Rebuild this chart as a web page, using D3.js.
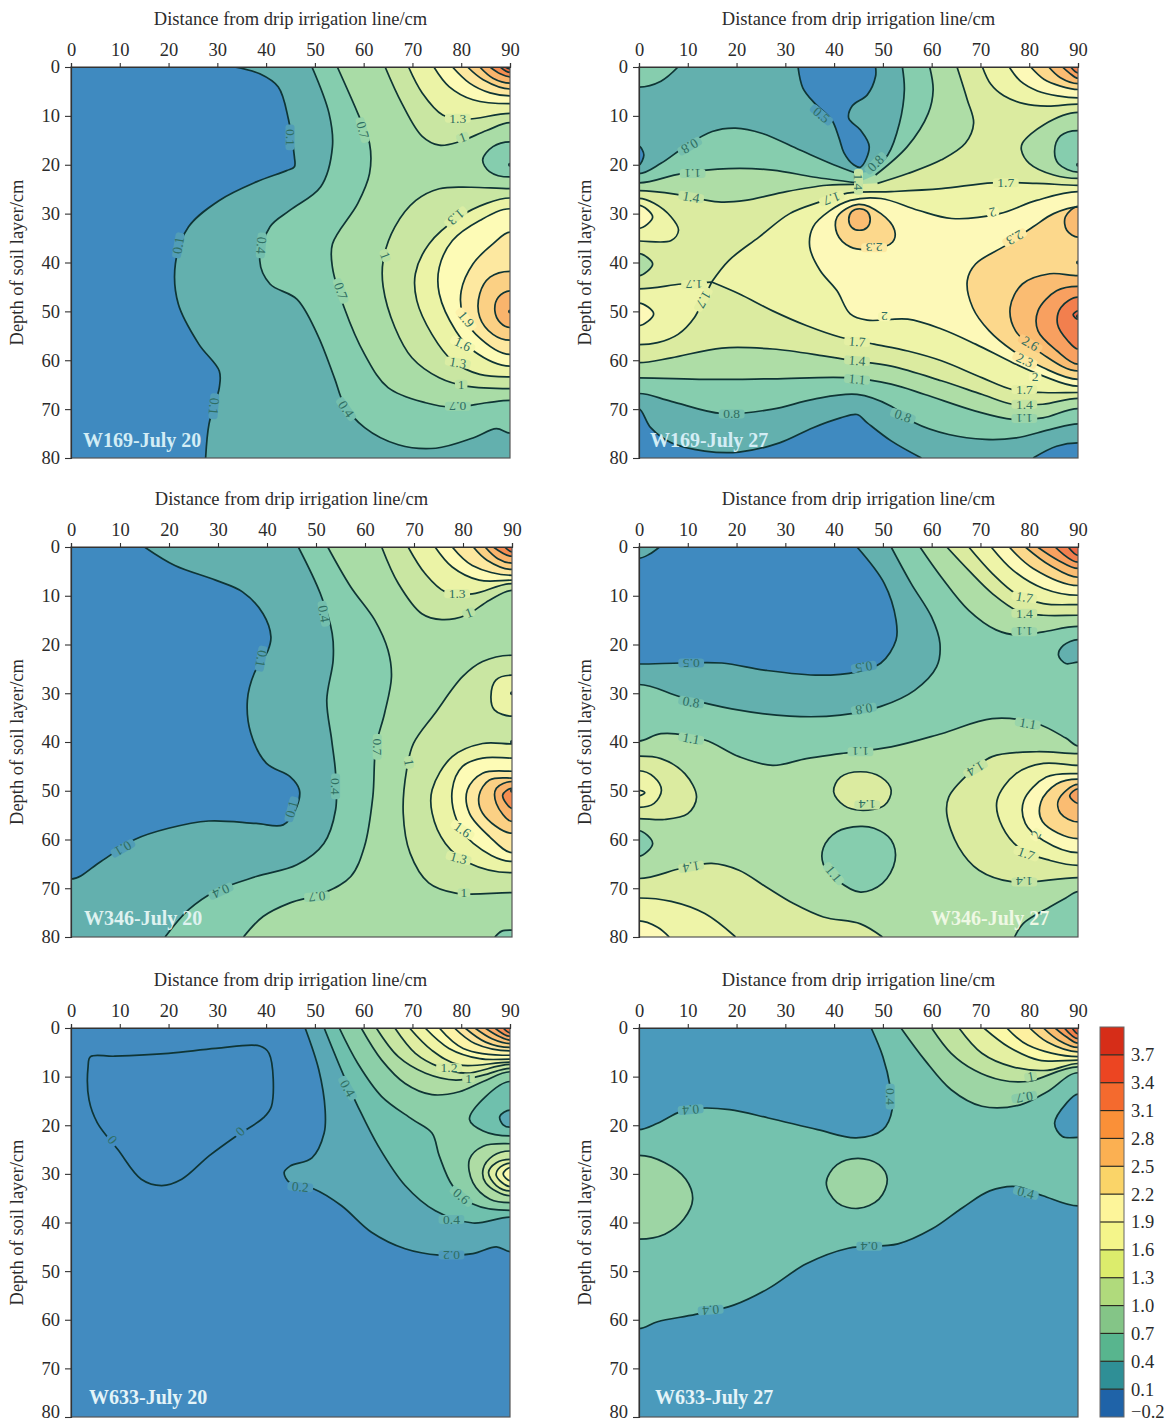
<!DOCTYPE html>
<html><head><meta charset="utf-8">
<script src="https://cdn.jsdelivr.net/npm/d3@7"></script>
<style>html,body{margin:0;background:#fff}svg{display:block}text{font-family:"Liberation Serif",serif}</style>
</head><body><div id="c"></div>
<script>
const distanceTicks=[0,10,20,30,40,50,60,70,80,90];
const depthTicks=[0,10,20,30,40,50,60,70,80];
const levelsA=[0.1,0.4,0.7,1,1.3,1.6,1.9,2.2,2.5,2.8,3.1,3.4];
const levelsB=[0.5,0.8,1.1,1.4,1.7,2,2.3,2.6,2.9,3.2,3.5];
const levelsC=[0,0.2,0.4,0.6,0.8,1,1.2,1.4,1.6,1.8,2,2.2,2.4,2.6,2.8,3];
const levelsD=[0.4,0.7,1,1.3,1.6,1.9,2.2,2.5,2.8,3.1,3.4];
const bandsA=['#3f8ac0','#63b0ae','#85cdae','#a9dca6','#c9e6a2','#ebf3a6','#fdfbb6','#fde8a0','#fbd084','#f9b46c','#f68c50','#ee6a40','#e64c30'];
const bandsB=['#3f8ac0','#63b0ae','#86cdae','#aedda6','#dbeba0','#eef4a8','#fdf9b8','#fcd88c','#fabc72','#f8a060','#f27f4e','#ec6644'];
const bandsC=['#428bc0','#428bc0','#5aa8b5','#6fc0ad','#8ccfa8','#aedca4','#c8e6a2','#e0eea2','#f0f4a6','#fdfbb0','#fdf3a8','#fde6a0','#fbd488','#fac078','#f8a868','#f59058','#f07848'];
const bandsD=['#4a9abc','#74c2ae','#9dd5a4','#c0e3a0','#e4f0a2','#fbf9a8','#fdf0a0','#fcd788','#f9bc70','#f79e5c','#f2804a','#e85c38'];
const colorbarLevels=[-0.2,0.1,0.4,0.7,1,1.3,1.6,1.9,2.2,2.5,2.8,3.1,3.4,3.7,4];
const colorbarBands=['#1f63a8','#2f8f96','#58b58e','#84c587','#b0da7c','#dcec6c','#f4f58a','#fdf59a','#fad468','#fbb052','#fa9038','#f46a2e','#ec4522','#d62d18'];
const colorbarTicks=[-0.2,0.1,0.4,0.7,1,1.3,1.6,1.9,2.2,2.5,2.8,3.1,3.4,3.7];

const hi=(v,...segs)=>({v,low:false,segs});
const lo=(v,...segs)=>({v,low:true,segs});
const blobHi=(v,pts)=>({v,low:false,closed:true,segs:[pts]});
const blobLo=(v,pts)=>({v,low:true,closed:true,segs:[pts]});
const TR=[[90,0]],BR=[[90,80]],BL=[[0,80]],TL=[[0,0]];

const w169Jul20=[
hi(0.1,[[33.5,0],[38.7,1.4],[42.5,4.1],[44.6,10.8],[45.8,18.4],[45.8,20.4],[44.2,21.2],[38,23.5],[30.4,27.3],[24.1,32.7],[21.4,40.3],[22,48.5],[26.2,56.7],[30.4,62.2],[30.4,65.6],[28.3,73],[27.6,80]],BR,TR),
hi(0.4,[[49.4,0],[52.9,9.5],[53.6,16.3],[51.2,24.5],[44.9,29.3],[40.8,32.7],[38.7,39.6],[40.8,44.4],[46.3,47.5],[50.5,54.7],[54,63.6],[56,69],[60.2,73.8],[67.1,77.3],[74.8,78],[82.4,75.9],[87.2,74],[90,74.9]],TR),
hi(0.7,[[54.6,0],[58.8,9.5],[61.2,15.6],[61.2,21.8],[58.8,27.9],[53.6,36.2],[53.6,41],[56,49.2],[60.2,58.8],[65,65.6],[72.7,68.7],[78.2,69.6],[85.2,68.7],[90,68.2]],TR),
lo(0.7,[[90,15.3],[86.5,16.3],[84.4,19],[85.8,21.4],[90,22.5]]),
hi(1,[[64.4,0],[67.8,7.4],[72,14.2],[75.5,16],[79.6,15.3],[85.2,13],[90,11.4]],TR),
hi(1,[[90,24.9],[82,24.6],[75.5,24.9],[70.7,27.3],[66.4,32.7],[64,39.6],[64,45],[66.4,53.3],[69.9,59.5],[75.5,63.6],[81,65.3],[90,65.8]]),
hi(1.3,[[69.2,0],[72,5.3],[76.2,9.8],[81,10.7],[90,9.5]],TR),
hi(1.3,[[90,26.8],[85.2,27.9],[79.6,30.7],[73.4,36.2],[70.6,42.3],[70.9,47.8],[74,54.7],[78.2,60.1],[83.8,62.9],[90,63.4]]),
hi(1.6,[[74.4,0],[77.5,4],[82.4,6.7],[90,7.5]],TR),
hi(1.6,[[90,29],[83.8,31.4],[78.2,35.5],[75.5,41],[75.5,46.4],[78.9,54],[82.4,58],[90,61.2]]),
hi(1.9,[[78.2,0],[81.7,3.3],[85.9,5.3],[90,5.9]],TR),
hi(1.9,[[90,33.8],[86.5,36.2],[82.4,40.3],[80,45.8],[80.3,50.5],[83,54.7],[90,58.8]]),
hi(2.2,[[81.3,0],[84.5,2.6],[90,4.5]],TR),
hi(2.2,[[90,41.8],[85.9,43],[83.8,46.4],[83.8,51.2],[86.5,54.7],[90,55.9]]),
hi(2.5,[[83.8,0],[86.5,2.3],[90,3.3]],TR),
hi(2.5,[[90,45.8],[87.6,47.1],[86.9,49.9],[88,52.3],[90,53.3]]),
hi(2.8,[[85.9,0],[88,1.4],[90,2]],TR),
hi(3.1,[[88,0],[90,1.1]],TR),
hi(3.4,[[89,0],[90,0.4]],TR)
];
const w169Jul20Labels=[['0.1',44.9,14.4,90],['0.1',22,36.5,-80],['0.1',29.3,69.4,95],['0.4',39,36.5,95],['0.4',56.4,70,55],['0.7',59.8,12.9,75],['0.7',55.3,45.8,70],['0.7',79.3,69.4,180],['1',64.4,38.6,70],['1',80.3,14.4,-20],['1',80,64.9,0],['1.3',79.3,10.5,0],['1.3',78.9,30.7,140],['1.3',79.3,60.5,10],['1.6',80.3,56.7,25],['1.9',81,51.6,50]];
const w169Jul20Dots=[[90,20],[90,50]];

const w169Jul27=[
lo(0.5,[[32.6,0],[33.6,4.3],[36,7.4],[39.5,10.8],[41,14.5],[42,17.5],[44,20],[45.4,20.5],[47.2,16.3],[45.4,12.9],[43,10.5],[43.7,8],[46.8,5.7],[48.5,1.9],[48.5,0]]),
lo(0.5,[[0,16.2],[1,18],[0,20]]),
lo(0.5,[[0,70],[2.4,73.8],[6.6,76.9],[13.5,78.6],[20.5,78.8],[28.8,76.9],[35.7,73.8],[41.3,71.8],[44.7,71.1],[46.8,72.8],[51.7,76.5],[57.9,80]],BL),
lo(0.5,[[80.8,80],[85.6,77.6],[90,76.9]],BR),
hi(0.8,[[0,4.1],[4.5,2.9],[8,0]],TL),
hi(0.8,[[0,21.8],[4.5,19.7],[9.4,16.3],[15,13.2],[19.8,12.5],[25.3,13.6],[33,17],[39.9,20],[44.7,21.8]],[[47.5,21.4],[51,18],[53.4,11.5],[54.4,4.7],[54,0]],TR,[[90,73],[84.2,74.2],[77.3,75.9],[71,76.2],[63.5,75.2],[56.5,72.8],[51.7,69.4],[44.7,67],[35.7,68],[27.4,70],[17,70.9],[6.6,68.4],[0,66.8]]),
hi(1.1,[[0,23.7],[8.7,21.8],[18.4,20.8],[27.4,21.1],[35.7,22.5],[44.7,23.7]],[[48.5,22.1],[55,16.3],[59.3,9.5],[60.3,4.7],[59.6,0]],TR,[[90,69.9],[82.8,71.8],[76.6,72.1],[69,70.4],[58.6,67],[51.7,64.9],[43.3,63.6],[27.4,63.8],[13.5,63.9],[0,63.6]]),
hi(1.4,[[0,25.3],[8.7,26.2],[16.3,27.6],[21.8,27.3],[30.2,25.5],[38.5,24.2],[44.7,24]],[[48.9,23.8],[55.1,21.8],[62,19],[66.9,15.6],[68.6,11.5],[67.3,6.7],[65.2,0]],TR,[[90,67.8],[82.8,69],[76.6,69],[70.4,67],[62,64.2],[51.7,61.2],[43.3,60],[37.8,59.1],[27.4,57.7],[17,57.5],[6.6,59.5],[0,60.5]]),
lo(1.4,[[90,9.3],[83,11.8],[78.6,15.6],[78.4,17],[80,19.7],[85,22.1],[90,22.8]]),
lo(1.1,[[90,13],[86.4,14.1],[85.2,17.2],[86,19.8],[90,21.5]]),
lo(1.4,[[0,38.2],[2.8,40.3],[0,42.7]]),
hi(1.7,[[70.4,0],[72.1,3.5],[74.8,5.9],[78.9,7.5],[83.7,8],[90,7.6]],TR),
hi(1.7,[[0,26.9],[3.1,27.9],[6.6,30.7],[8.1,33.4],[6.6,35.5],[0,35.6]]),
hi(1.7,[[90,24.2],[81.5,23.8],[72.5,23.7],[62,24.9],[51.7,25.5],[42.7,25.8],[37.1,27.6],[30.9,30],[24.6,34.8],[18.4,39.6],[14.9,44]],[[14.9,44],[20.5,46.4],[27.4,49.9],[34.3,52.9],[41.3,55.3],[48.2,56.7],[55.1,58.1],[62,60.1],[70.4,63.6],[76.6,66],[82.8,66.6],[90,66.6]]),
hi(1.7,[[0,45.4],[8.7,44.4],[14.9,44]],[[14.9,44],[13.2,47.5],[11.4,51.2],[8,54.7],[3.8,56.4],[0,56.8]]),
hi(2,[[75.9,0],[78.2,2.9],[81.7,4.9],[85.8,5.9],[90,6.3]],TR),
hi(2,[[0,28.3],[2.8,30.7],[0,33]]),
hi(2,[[0,48.3],[3,50.5],[0,52.9]]),
hi(2,[[90,25.5],[81.5,27.3],[73.9,30],[64.1,31],[57.2,29.3],[49.6,26.9],[43.3,27.3],[39,29.5],[35.7,32.7],[35,36.8],[37.1,41.6],[40.6,45.8],[43.3,50.5],[46.8,51.8],[55.1,51.6],[62,53.6],[69,56.7],[76.6,60.5],[82.8,63.2],[90,65.3]]),
hi(2.3,[[80.3,0],[83,2.5],[86.4,3.9],[90,4.6]],TR),
blobHi(2.3,[[45,28.1],[40.6,30.7],[40.6,34.1],[43.3,36.8],[48.2,37.2],[52,35.8],[52.4,33.4],[49.6,30]]),
hi(2.3,[[90,28.6],[85,30],[80.8,32.7],[75.2,36.5],[69,40.3],[67.3,43.7],[68.4,49.2],[71.8,54],[76.6,58],[82.8,61.5],[90,63.9]]),
hi(2.6,[[84,0],[86.4,2.2],[90,3.4]],TR),
blobHi(2.6,[[45.2,29],[46.8,29.6],[47.4,31.2],[46.8,32.8],[45.2,33.4],[43.6,32.8],[43,31.2],[43.6,29.6]]),
hi(2.6,[[90,28.5],[87.4,30.7],[87.7,33.4],[90,34.8]]),
hi(2.6,[[90,42.7],[84.2,42.3],[78.6,44.4],[76.1,49.2],[77.2,54],[82.8,58.8],[90,62.2]]),
hi(2.9,[[86.8,0],[88.2,1.2],[90,2.3]],TR),
hi(2.9,[[90,44.9],[85.6,45.8],[81.8,49.9],[81.8,54],[85.6,58],[90,60.8]]),
hi(3.2,[[88.5,0],[90,1.2]],TR),
hi(3.2,[[90,47.1],[86.5,49.2],[85.8,52.6],[87.9,56],[90,57.7]]),
hi(3.5,[[90,49.9],[89,50.7],[90,51.6]])
];
const w169Jul27Labels=[['0.5',37.4,9.8,40],['0.8',10.4,16.2,150],['0.8',48.5,19.7,-45],['1.1',11,21.8,180],['1.4',10.7,26.6,10],['1.4',45,23.5,90],['1.7',39.5,26.9,160],['1.7',75.2,23.7,0],['2',72.5,29.7,165],['2.3',48.2,37,180],['2.3',77,34.9,150],['1.7',11.3,44.5,180],['1.7',13.2,47.6,120],['2',50.3,51.1,180],['1.7',44.7,56.2,5],['1.4',44.7,60.1,5],['1.1',44.7,63.9,5],['0.8',19,71,0],['0.8',54.1,71.4,20],['2.6',80.2,56.6,30],['2.3',79.1,60,25],['2',81.2,63.4,0],['1.7',79,66,0],['1.4',79,69,0],['1.1',79,71.9,180]];
const w169Jul27Dots=[[90,20],[90,40],[90,51]];

const w346Jul20=[
hi(0.1,[[15,0],[21.2,3.8],[29.5,6.8],[35,9.2],[39.2,13.7],[40.8,18.4],[40.2,21.2],[37.4,25.9],[36,31.4],[36.7,38.2],[39.9,44.4],[44.7,47.1],[46.6,49.8],[46.1,53.2],[43.3,57],[37.8,56.7],[28.1,56.2],[19.9,57.7],[13,60],[6.1,64.5],[0,68.1]],BL,BR,TR),
hi(0.4,[[46.4,0],[50.9,9.6],[53.3,17.7],[53.5,23.2],[52.2,31.4],[53.2,39.6],[54,46.4],[54,53.9],[51.6,60.8],[46.1,65.2],[37.8,67.6],[29.5,70.6],[24,74.4],[19.2,80]],BR,TR),
hi(0.7,[[52.4,0],[57.1,8.2],[62,15],[64.7,21.2],[65.4,26.6],[64,34.1],[62.2,41],[61.6,51.2],[59.9,61.4],[57.1,67.6],[51.6,71],[44.7,73],[39.2,75.8],[35.2,80]],BR,TR),
lo(0.7,[[86.5,80],[87.9,78.8],[90,78.6]],BR),
hi(1,[[63.4,0],[66.8,7.5],[71.6,13.7],[75.7,14.9],[80.6,14],[85.4,10.9],[90,8.9]],TR),
hi(1,[[90,22.2],[84,23.5],[79.9,26.6],[74.3,34.1],[69.9,40.3],[68.5,45.7],[67.8,54.6],[69.2,62.8],[73,68.9],[78.5,71],[90,70.9]]),
hi(1.3,[[68.8,0],[72.3,5.5],[76.4,9.2],[81.9,9.6],[90,7.5]],TR),
hi(1.3,[[90,26.3],[86.7,27.3],[85.7,30.7],[86.4,33.4],[90,34.7]]),
hi(1.3,[[90,40.4],[84,40.3],[77.8,43],[73.7,49.8],[73.7,54.6],[76.4,60.8],[81.2,64.8],[90,66.8]]),
hi(1.6,[[74.3,0],[77.8,4.1],[83.3,6.8],[90,6.8]],TR),
hi(1.6,[[90,43.3],[84,43.3],[79.9,45],[77.8,49.8],[78.7,56],[82.1,60.8],[90,64.5]]),
hi(1.9,[[77.8,0],[81.9,3.8],[90,5.8]],TR),
hi(1.9,[[90,46],[84,46.4],[80.9,49.8],[81.3,54.6],[85.4,59.4],[90,62.7]]),
hi(2.2,[[82.1,0],[84.9,2.7],[90,4.6]],TR),
hi(2.2,[[90,47.4],[85.4,47.8],[83.3,50.9],[84,54.6],[90,58.7]]),
hi(2.5,[[84.5,0],[87.1,2.4],[90,3.3]],TR),
hi(2.5,[[90,48.1],[86.8,49.5],[86.8,52.6],[90,56.3]]),
hi(2.8,[[86.2,0],[90,1.9]],TR),
hi(2.8,[[90,49.5],[88.1,50.9],[90,53.6]]),
hi(3.1,[[88.5,0],[90,1]],TR)
];
const w346Jul20Labels=[['0.1',38.8,22.9,100],['0.1',45,53.8,-75],['0.1',10.6,61.8,150],['0.4',51.6,13.7,80],['0.4',54,49.1,90],['0.4',30.6,70.6,155],['0.7',62.5,41,90],['0.7',50.2,71.7,175],['1',69,44.2,80],['1',81.2,13.5,-20],['1',80.2,70.9,0],['1.3',78.8,9.6,0],['1.3',79.1,63.8,15],['1.6',79.9,58,35]];
const w346Jul20Dots=[[90,30],[90,40],[90,50]];

const w346Jul27=[
hi(0.5,[[0,2.3],[2.1,1.5],[4.2,0]],TL),
hi(0.5,[[0,24],[8.7,23.8],[17,23.8],[26,25.3],[37.1,26.3],[44.7,25.6],[49.6,23.8],[52.7,19.1],[52.7,15],[50.3,7.5],[44.7,0]],TR,BR,BL),
hi(0.8,[[0,28.2],[8.7,30.8],[19,33.2],[30.9,34.7],[41.3,34.5],[49.6,32.7],[56.5,29.4],[61,24.6],[61.7,19.8],[60,14.4],[55.8,7.5],[51.7,0]],TR,BR,BL),
lo(0.8,[[90,19],[87,20.2],[86,22.2],[87.5,23.9],[90,23.6]]),
hi(1.1,[[57.6,0],[62,6.2],[67.6,13],[73.2,17],[78,18.1],[82.9,17.4],[90,16.3]],TR),
hi(1.1,[[0,39.8],[4.5,38.3],[13.5,39.6],[20.5,43],[27.4,44.8],[34.3,43.4],[41.3,42.4],[51.7,41],[62,38.3],[72.4,35.2],[81.5,36.2],[87.5,39.2],[90,40.8]],BR,BL),
lo(1.1,[[0,58.2],[2.8,60.8],[0,63.4]]),
blobLo(1.1,[[45.4,57.3],[40.6,58.4],[37.8,61.7],[37.8,65.1],[40.6,68.3],[45.4,70.8],[49.9,69],[52.5,64.3],[51.7,60.1],[48.2,57.7]]),
lo(1.1,[[90,70.7],[87.5,72],[84.3,73.8],[78.8,77.2],[77,80]],BR),
hi(1.4,[[63.1,0],[67.6,4.8],[72.5,9.6],[78,13.3],[82.9,14],[90,14]],TR),
hi(1.4,[[0,42.9],[4.5,43.4],[9.4,46.5],[11.8,51.3],[10,54.7],[5.2,55.9],[0,55.7]]),
blobHi(1.4,[[45.4,46.1],[41.3,47.2],[39.9,50.2],[42,53],[45.4,54],[50.3,53],[51.7,49.9],[49.6,47.2]]),
hi(1.4,[[90,42.4],[81.5,42],[72.4,43],[67.6,46.5],[63.5,51.3],[63.1,54.7],[65.5,61.5],[69.7,66.3],[76.6,68.7],[90,67.8]]),
hi(1.4,[[0,68],[8.7,65.9],[14.9,64.9],[20.5,66.3],[26,69.7],[31.6,73.1],[37.8,75.9],[45.4,77.3],[49.9,80]],BL),
hi(1.7,[[67.6,0],[72.5,5.5],[77.3,9.6],[82.9,11.6],[90,11.8]],TR),
hi(1.7,[[0,45.9],[3.1,47.2],[4.6,49.9],[3.1,52.6],[0,53.4]]),
hi(1.7,[[90,44.8],[82.9,44.4],[77.3,46.5],[73.4,52],[74.5,57.4],[78.6,62.2],[84.3,64.3],[90,65.3]]),
hi(1.7,[[0,72],[6.6,72.7],[13.5,75.2],[19.8,80]],BL),
hi(2,[[72.2,0],[76.7,4.8],[82.9,8.5],[90,9.9]],TR),
hi(2,[[90,46.5],[83.5,47.2],[78.9,52],[79.2,56.7],[82.9,60.2],[90,62.7]]),
hi(2,[[0,76.7],[3.8,78],[6.2,80]],BL),
hi(2,[[0,49.9],[1.2,50.4],[0,51]]),
hi(2.3,[[75.9,0],[80.8,4.4],[90,7.9]],TR),
hi(2.3,[[90,47.6],[85.6,48.6],[82.4,52.3],[82.7,56.3],[90,59.8]]),
hi(2.6,[[79.2,0],[84.3,3.8],[90,6.2]],TR),
hi(2.6,[[90,48.7],[86,51.9],[86.4,54.6],[90,56.4]]),
hi(2.9,[[81.7,0],[85.9,2.7],[90,4.4]],TR),
hi(2.9,[[90,49.6],[88.3,51],[90,52.6]]),
hi(3.2,[[85.3,0],[90,3.1]],TR),
hi(3.5,[[88,0],[90,1.7]],TR)
];
const w346Jul27Labels=[['0.5',10.7,23.8,180],['0.5',46.1,24.6,170],['0.8',10.7,31.8,10],['0.8',46.1,33.2,170],['1.1',10.7,39.3,10],['1.1',45.4,42,180],['1.1',79.7,36.2,10],['1.4',69,45.5,150],['1.4',46.8,52.9,180],['1.4',10.7,65.6,170],['1.1',39.9,67,50],['1.7',79,10.3,10],['1.4',79,13.6,0],['1.1',79,17.4,180],['2',81.4,59,-60],['1.7',79.4,62.9,20],['1.4',79,68.7,180]];
const w346Jul27Dots=[];

const w633Jul20=[
hi(0.2,[[48,0],[50.8,8.6],[52.1,16.8],[51.9,21.6],[49.4,26.7],[44.9,28.4],[43.7,29.7],[44.9,31.9],[49.8,33.1],[55.4,36.5],[61.6,42],[68.5,45.4],[75.5,46.7],[82.4,46.4],[87.2,45],[90,46]],TR),
hi(0.4,[[51.9,0],[56,10],[58.8,16.1],[63,24.3],[68.5,32.4],[74.7,37.6],[82.4,40.1],[90,38.9]],TR),
hi(0.6,[[55,0],[58.8,7.3],[63.7,14.1],[70,18.8],[74,21.6],[75.5,26.3],[78.2,32.4],[82.4,36.2],[90,37.5]],TR),
lo(0.6,[[90,11],[85,14.1],[81.7,18.8],[84.5,21.2],[90,22.2]]),
lo(0.4,[[90,16.9],[87.9,18.2],[88.6,19.9],[90,20.4]]),
hi(0.8,[[59.5,0],[63.7,6.6],[68.5,11.4],[74,13.7],[79.6,13.1],[84.5,11],[90,9]],TR),
hi(0.8,[[90,23.8],[84.5,24.3],[81.7,27],[82.4,31.8],[85.9,35.2],[90,35.9]]),
hi(1,[[62.6,0],[67.1,5.9],[72.7,9.3],[78.9,10.7],[84.5,9.7],[90,8.3]],TR),
hi(1,[[90,25.3],[86.5,26.3],[84.5,29],[85,31.8],[90,34.5]]),
hi(1.2,[[66.4,0],[70.6,5.2],[75.5,8],[81,9.3],[90,7.5]],TR),
hi(1.2,[[90,27],[87.2,27.7],[85.6,29.7],[87.2,32.4],[90,33.5]]),
hi(1.4,[[69.4,0],[74,4.6],[79.6,7.6],[90,7]],TR),
hi(1.4,[[90,27.8],[87.6,29],[87.2,30.4],[90,32.6]]),
hi(1.6,[[72.6,0],[77.5,4.2],[83.8,6.3],[90,6.4]],TR),
hi(1.6,[[90,28.7],[88.6,30],[90,31.4]]),
hi(1.8,[[75.5,0],[80.4,4.2],[90,5.6]],TR),
hi(2,[[78.6,0],[82.8,3.2],[90,4.7]],TR),
hi(2.2,[[80.8,0],[85,2.9],[90,4]],TR),
hi(2.4,[[82.8,0],[86.3,2.2],[90,3.2]],TR),
hi(2.6,[[84.9,0],[87.7,1.7],[90,2.5]],TR),
hi(2.8,[[86.9,0],[90,1.7]],TR),
hi(3,[[88.6,0],[90,1]],TR),
blobLo(0,[[4,5.9],[8.9,5.8],[20,5.2],[29.7,4.2],[38.7,3.7],[40.6,5.2],[41.1,16.1],[39.4,18.5],[33.9,22.2],[28.3,26.3],[22.7,31.1],[18.6,32.4],[14.4,31.1],[9.6,25],[5.4,19.5],[3.7,14.8],[3.5,8]])
];
const w633Jul20Labels=[['0',8.5,23,50],['0',34.7,21.3,-45],['0.2',47,32.7,5],['0.2',78,46.7,180],['0.4',56.7,12.4,60],['0.4',78,39.4,0],['0.6',80,34.6,40],['1.2',77.5,8.2,0],['1',81.5,10.3,0]];
const w633Jul20Dots=[];

const w633Jul27=[
hi(0.4,[[47.6,0],[50,5.9],[51.5,12.1],[51.9,16.8],[50,20.9],[44.5,22.6],[36.6,20.9],[26.5,18.5],[18.6,16.8],[12.4,16.5],[8.5,17.2],[3.8,19.6],[0,20.9]],[[0,61.8],[3.8,60.4],[11.6,58.9],[19.4,57],[26.5,53.6],[34.3,48.5],[42.9,45.3],[53.1,44.4],[60.1,41.3],[66.4,36.9],[71.9,33.5],[77.4,32.6],[82.8,34.5],[90,36.6]],TR),
lo(0.4,[[90,13.6],[87.6,15.5],[85.2,19.6],[86.8,22.3],[90,22.5]]),
hi(0.7,[[53.7,0],[58.6,6.6],[64,12.7],[70.3,16.1],[78.2,15.8],[83.7,13.1],[90,9.2]],TR),
hi(0.7,[[0,26.2],[5.3,27.7],[9.6,31.1],[11,35.2],[9.2,39.3],[5.3,42.4],[0,43.4]]),
blobHi(0.7,[[44.9,26.8],[40.6,28.1],[38.4,31.8],[40.6,35.9],[44.9,37.1],[49.2,35.2],[50.9,31.1],[49.2,28.1]]),
hi(1,[[60,0],[64,5.2],[68.8,8.7],[74.2,10.7],[79.7,11],[90,8]],TR),
hi(1.3,[[65.6,0],[70.3,5.2],[76.6,8],[83.7,8.7],[90,7.3]],TR),
hi(1.6,[[70.7,0],[75.8,3.9],[82,6.6],[90,6.6]],TR),
hi(1.9,[[75.4,0],[79.7,3.5],[90,5.9]],TR),
hi(2.2,[[80.1,0],[83.7,2.9],[90,4.9]],TR),
hi(2.5,[[82.9,0],[86,2.5],[90,4]],TR),
hi(2.8,[[85.3,0],[87.6,1.8],[90,3.1]],TR),
hi(3.1,[[87.2,0],[90,2.2]],TR),
hi(3.4,[[88.8,0],[90,1.2]],TR)
];
const w633Jul27Labels=[['0.4',51.5,14.1,90],['0.4',10.6,16.8,175],['0.4',47.2,44.9,180],['0.4',14.7,58,175],['0.4',79.3,33.9,15],['1',80.3,10,-10],['0.7',79,14.2,170]];
const w633Jul27Dots=[];

const panels=[
{name:'W169-July 20',x0:71,x1:510,y0:67,y1:458,levels:levelsA,bands:bandsA,base:0,contours:w169Jul20,labels:w169Jul20Labels,dots:w169Jul20Dots,nx:83,ny:447,nc:'#d3edf5'},
{name:'W169-July 27',x0:639,x1:1078,y0:67,y1:458,levels:levelsB,bands:bandsB,base:1,contours:w169Jul27,labels:w169Jul27Labels,dots:w169Jul27Dots,nx:650,ny:447,nc:'#d3edf5'},
{name:'W346-July 20',x0:71,x1:512,y0:547,y1:937,levels:levelsA,bands:bandsA,base:0,contours:w346Jul20,labels:w346Jul20Labels,dots:w346Jul20Dots,nx:84,ny:925,nc:'#dff2f0'},
{name:'W346-July 27',x0:639,x1:1078,y0:547,y1:937,levels:levelsB,bands:bandsB,base:0,contours:w346Jul27,labels:w346Jul27Labels,dots:w346Jul27Dots,nx:931,ny:925,nc:'#eef8e4'},
{name:'W633-July 20',x0:71,x1:510,y0:1028,y1:1417,levels:levelsC,bands:bandsC,base:0,contours:w633Jul20,labels:w633Jul20Labels,dots:w633Jul20Dots,nx:89,ny:1404,nc:'#e4f4f8'},
{name:'W633-July 27',x0:639,x1:1078,y0:1028,y1:1417,levels:levelsD,bands:bandsD,base:0,contours:w633Jul27,labels:w633Jul27Labels,dots:w633Jul27Dots,nx:655,ny:1404,nc:'#e4f4f8'}
];

const svg=d3.select('#c').append('svg').attr('width',1169).attr('height',1425).attr('viewBox','0 0 1169 1425');
const LINE='#0f3535',INK='#2b2b2b',FRAME='#555',FS=18.5;

// Contours meet the side walls of the plot square-on: continue each end past the wall by its own reflection (clipped away).
function pastWalls(seg){
  const out=seg.slice();
  const a=seg[0],b=seg[1],m=seg[seg.length-1],n=seg[seg.length-2];
  if(a[0]===0||a[0]===90) out.unshift([2*a[0]-b[0],b[1]]);
  if(m[0]===0||m[0]===90) out.push([2*m[0]-n[0],n[1]]);
  return out;
}

panels.forEach((p,pi)=>{
  const x=d3.scaleLinear().domain([0,90]).range([p.x0,p.x1]);
  const y=d3.scaleLinear().domain([0,80]).range([p.y0,p.y1]);
  const g=svg.append('g');
  const cid='clip'+pi;
  g.append('clipPath').attr('id',cid).append('rect').attr('x',p.x0).attr('y',p.y0).attr('width',p.x1-p.x0).attr('height',p.y1-p.y0);
  const plot=g.append('g').attr('clip-path',`url(#${cid})`);
  plot.append('rect').attr('x',p.x0).attr('y',p.y0).attr('width',p.x1-p.x0).attr('height',p.y1-p.y0).attr('fill',p.bands[p.base]);
  const open=d3.line().x(d=>x(d[0])).y(d=>y(d[1])).curve(d3.curveCatmullRom.alpha(0.5));
  const closed=d3.line().x(d=>x(d[0])).y(d=>y(d[1])).curve(d3.curveCatmullRomClosed.alpha(0.5));
  const fillPath=c=>{
    if(c.closed) return closed(c.segs[0]);
    let s='';
    c.segs.forEach((seg,i)=>{
      const d=seg.length===1?`M${x(seg[0][0])},${y(seg[0][1])}`:open(pastWalls(seg));
      s+=i===0?d:d.replace(/^M/,'L');
    });
    return s+'Z';
  };
  const bandOf=c=>{const i=p.levels.indexOf(c.v);return c.low?i:i+1;};
  plot.selectAll('path.fill').data(p.contours).join('path').attr('class','fill')
    .attr('d',fillPath).attr('fill',c=>p.bands[bandOf(c)]).attr('stroke','none');
  const strokes=[];
  p.contours.forEach(c=>{
    if(c.closed) strokes.push(closed(c.segs[0]));
    else c.segs.filter(s=>s.length>1).forEach(s=>strokes.push(open(pastWalls(s))));
  });
  plot.selectAll('path.line').data(strokes).join('path').attr('class','line').attr('d',d=>d)
    .attr('fill','none').attr('stroke',LINE).attr('stroke-width',1.7).attr('stroke-linejoin','round');
  plot.selectAll('circle').data(p.dots).join('circle').attr('cx',d=>x(d[0])).attr('cy',d=>y(d[1])).attr('r',2).attr('fill',LINE);
  const halo=t=>{const v=parseFloat(t);const i=p.levels.indexOf(v);return d3.interpolateRgb(p.bands[i],p.bands[i+1])(0.5);};
  const labs=plot.selectAll('g.lab').data(p.labels).join('g').attr('class','lab')
    .attr('transform',d=>`translate(${x(d[1])},${y(d[2])}) rotate(${d[3]})`);
  labs.append('rect').attr('x',d=>-(d[0].length*3.3+3)).attr('width',d=>2*(d[0].length*3.3+3)).attr('y',-4.5).attr('height',9).attr('rx',3).attr('fill',d=>halo(d[0]));
  labs.append('text').attr('text-anchor','middle').attr('dy','0.33em').attr('font-size',13.5).attr('fill','#2f6e62').text(d=>d[0]);
  plot.append('text').attr('x',p.nx).attr('y',p.ny).attr('font-size',20).attr('font-weight','bold').attr('fill',p.nc).text(p.name);
  g.append('rect').attr('x',p.x0).attr('y',p.y0).attr('width',p.x1-p.x0).attr('height',p.y1-p.y0).attr('fill','none').attr('stroke',FRAME).attr('stroke-width',1.2);
  const ax=g.append('g').attr('transform',`translate(0,${p.y0})`).call(d3.axisTop(x).tickValues(distanceTicks).tickSize(4).tickPadding(7));
  const ay=g.append('g').attr('transform',`translate(${p.x0},0)`).call(d3.axisLeft(y).tickValues(depthTicks).tickSize(6).tickPadding(5));
  [ax,ay].forEach(a=>{
    a.selectAll('text').attr('font-size',FS).attr('font-family','"Liberation Serif",serif').attr('fill',INK);
    a.selectAll('line').attr('stroke','#333').attr('stroke-width',1.1);
    a.select('.domain').attr('stroke','#333').attr('stroke-width',1.2);
  });
  // Keep the lowest depth label of the bottom row inside the page.
  if(p.y1>1400) ay.selectAll('.tick').filter(d=>d===80).select('text').attr('y',-5);
  g.append('text').attr('x',(p.x0+p.x1)/2).attr('y',p.y0-42).attr('text-anchor','middle').attr('font-size',FS).attr('fill',INK).text('Distance from drip irrigation line/cm');
  g.append('text').attr('transform',`translate(${p.x0-48},${(p.y0+p.y1)/2}) rotate(-90)`).attr('text-anchor','middle').attr('font-size',FS).attr('fill',INK).text('Depth of soil layer/cm');
});

const cy=d3.scaleLinear().domain([-0.2,4]).range([1417,1027]);
const cb=svg.append('g');
cb.selectAll('rect').data(colorbarBands).join('rect')
  .attr('x',1100).attr('width',24).attr('y',(d,i)=>cy(colorbarLevels[i+1])).attr('height',(d,i)=>cy(colorbarLevels[i])-cy(colorbarLevels[i+1])).attr('fill',d=>d);
cb.selectAll('line').data(colorbarLevels.slice(1,-1)).join('line').attr('x1',1100).attr('x2',1124).attr('y1',d=>cy(d)).attr('y2',d=>cy(d)).attr('stroke','#2a2a20').attr('stroke-width',1.2);
cb.append('rect').attr('x',1100).attr('y',1027).attr('width',24).attr('height',390).attr('fill','none').attr('stroke','#666').attr('stroke-width',1);
cb.selectAll('text').data(colorbarTicks).join('text').attr('x',1131).attr('y',d=>d<0?cy(d)-5:cy(d)).attr('dy','0.35em').attr('font-size',FS).attr('fill',INK)
  .text(d=>d<0?'\u2212'+Math.abs(d).toFixed(1):d.toFixed(1));
</script></body></html>
